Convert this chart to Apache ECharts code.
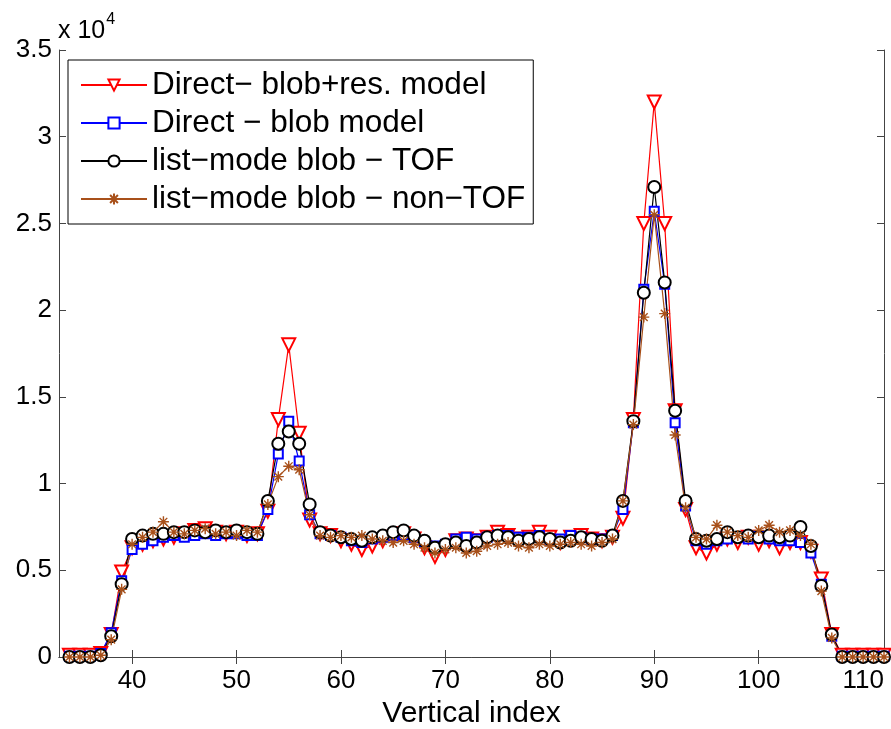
<!DOCTYPE html>
<html lang="en">
<head>
    <meta charset="UTF-8">
    <title>Vertical index profile</title>
    <script src="https://cdn.jsdelivr.net/npm/echarts@6/dist/echarts.min.js"></script>
    <style>
        body { margin: 0; background: #fff; }
    </style>
</head>
<body>
    <div id="main" style="width:891px; height:729px;"></div>
    <script>
        // vertical index 34..112
        var xIndex = [34,35,36,37,38,39,40,41,42,43,44,45,46,47,48,49,50,51,52,53,54,55,56,57,58,59,60,61,62,63,64,65,66,67,68,69,70,71,72,73,74,75,76,77,78,79,80,81,82,83,84,85,86,87,88,89,90,91,92,93,94,95,96,97,98,99,100,101,102,103,104,105,106,107,108,109,110,111,112];

        var directRes = [100,100,100,200,1300,4900,6300,6500,6700,6800,6900,7100,7300,7400,7200,7100,7200,7000,7100,8400,13700,18000,12900,7900,7100,7000,6700,6500,6200,6400,6700,6900,7100,6800,6300,5800,6200,6700,6800,6700,6900,7200,7000,6800,6900,7200,6900,6600,6900,7000,6800,6700,6900,8000,13700,25000,32000,25000,14200,8500,6300,6000,6500,6800,6600,6900,6500,6700,6300,6600,6600,6100,4500,1300,100,100,100,100,100];

        var directBlob = [50,50,50,200,1400,4400,6200,6500,6700,6900,7000,6900,7000,7100,7000,7100,7100,7000,7000,8500,11700,13600,11300,8200,7100,7000,6900,6700,6600,6800,6900,7000,7000,6900,6600,6400,6500,6800,6900,6800,6900,7000,7000,6900,6900,7000,6800,6800,7000,6900,6800,6800,7000,8500,13500,21200,25700,21500,13500,8700,6700,6500,6700,6800,6900,6800,7000,6800,6700,6700,6600,6000,4200,1200,50,50,50,50,50];

        var listTof = [0,0,0,100,1200,4200,6800,7000,7100,7100,7200,7200,7300,7200,7300,7200,7300,7200,7100,9000,12300,13000,12300,8800,7200,7000,6900,6800,6700,6900,7000,7200,7300,7000,6700,6300,6500,6600,6400,6600,6900,7000,6900,6700,6800,6900,6800,6600,6700,6900,6800,6700,7000,9000,13600,21000,27100,21600,14200,9000,6800,6700,6800,7200,6900,7000,6900,7000,6900,7000,7500,6400,4100,1300,0,0,0,0,0];

        var listNonTof = [0,0,0,100,1000,3900,6500,6900,7200,7800,7200,7100,7300,7400,7100,7200,7000,7300,7200,8800,10400,11000,10800,8200,7000,6900,7000,6900,7000,6800,6700,6600,6700,6500,6300,6000,6200,6300,6000,6100,6400,6500,6600,6400,6300,6500,6400,6500,6600,6500,6400,6600,6800,9000,13400,19600,25500,19800,12800,8600,6900,6800,7600,7200,7000,6900,7300,7600,7200,7300,7000,6500,3800,1100,0,0,0,0,0];

        var xTicks = [40,50,60,70,80,90,100,110];

        function pairs(vals) {
            return vals.map(function (v, i) { return [xIndex[i], v]; });
        }

        var asterisk = 'path://M5,0L5,10M0,5L10,5M1.5,1.5L8.5,8.5M8.5,1.5L1.5,8.5';
        var font = 'Liberation Sans, Arial, sans-serif';
        var axisColor = '#444';

        var chart = echarts.init(document.getElementById('main'));

        var option = {
            animation: false,
            backgroundColor: '#fff',
            textStyle: { fontFamily: font },
            grid: { left: 59, right: 7, top: 50, bottom: 72, outerBoundsMode: 'none' },
            graphic: [{
                type: 'text',
                left: 58,
                top: 12,
                style: {
                    text: '{a|x 10}{b|4}',
                    rich: {
                        a: { fontSize: 25, fontFamily: font, fill: '#000', verticalAlign: 'bottom' },
                        b: { fontSize: 16, fontFamily: font, fill: '#000', verticalAlign: 'top', padding: [0, 0, 16, 1] }
                    }
                }
            }],
            legend: {
                orient: 'vertical',
                left: 68,
                top: 60,
                padding: [9, 8, 9, 12],
                itemGap: 6,
                itemWidth: 66,
                itemHeight: 14,
                backgroundColor: '#fff',
                borderColor: '#000',
                borderWidth: 1,
                borderRadius: 0,
                textStyle: { fontSize: 31.5, color: '#000', fontFamily: font },
                data: ['Direct\u2212 blob+res. model', 'Direct \u2212 blob model', 'list\u2212mode blob \u2212 TOF', 'list\u2212mode blob \u2212 non\u2212TOF']
            },
            xAxis: [{
                type: 'value',
                min: 33,
                max: 112,
                name: 'Vertical index',
                nameLocation: 'middle',
                nameGap: 40,
                nameTextStyle: { fontSize: 30, color: '#000', fontFamily: font },
                axisLine: { lineStyle: { color: axisColor } },
                axisTick: { inside: true, length: 7, customValues: xTicks, lineStyle: { color: axisColor } },
                axisLabel: { fontSize: 26, color: '#000', margin: 11, customValues: xTicks },
                splitLine: { show: false }
            }, {
                type: 'value',
                position: 'top',
                min: 33,
                max: 112,
                axisLine: { show: true, lineStyle: { color: axisColor } },
                axisTick: { inside: true, length: 7, customValues: xTicks, lineStyle: { color: axisColor } },
                axisLabel: { show: false },
                splitLine: { show: false }
            }],
            yAxis: [{
                type: 'value',
                min: 0,
                max: 35000,
                interval: 5000,
                axisLine: { show: true, lineStyle: { color: axisColor } },
                axisTick: { show: true, inside: true, length: 7, lineStyle: { color: axisColor } },
                axisLabel: {
                    fontSize: 26,
                    color: '#000',
                    margin: 7,
                    formatter: function (v) { return String(v / 10000); }
                },
                splitLine: { show: false }
            }, {
                type: 'value',
                position: 'right',
                min: 0,
                max: 35000,
                interval: 5000,
                axisLine: { show: true, lineStyle: { color: axisColor } },
                axisTick: { show: true, inside: true, length: 7, lineStyle: { color: axisColor } },
                axisLabel: { show: false },
                splitLine: { show: false }
            }],
            series: [{
                name: 'Direct\u2212 blob+res. model',
                type: 'line',
                data: pairs(directRes),
                symbol: 'emptyTriangle',
                symbolRotate: 180,
                symbolSize: 13,
                color: '#ff0000',
                lineStyle: { width: 1.2, color: '#ff0000' },
                itemStyle: { color: '#ff0000', borderWidth: 1.2 }
            }, {
                name: 'Direct \u2212 blob model',
                type: 'line',
                data: pairs(directBlob),
                symbol: 'emptyRect',
                symbolSize: 9,
                color: '#0000ff',
                lineStyle: { width: 1.2, color: '#0000ff' },
                itemStyle: { color: '#0000ff', borderWidth: 1.2 }
            }, {
                name: 'list\u2212mode blob \u2212 TOF',
                type: 'line',
                data: pairs(listTof),
                symbol: 'emptyCircle',
                symbolSize: 12,
                color: '#000000',
                lineStyle: { width: 1.2, color: '#000000' },
                itemStyle: { color: '#000000', borderWidth: 1.2 }
            }, {
                name: 'list\u2212mode blob \u2212 non\u2212TOF',
                type: 'line',
                data: pairs(listNonTof),
                symbol: asterisk,
                symbolSize: 11,
                color: '#a8501a',
                lineStyle: { width: 1.2, color: '#a8501a' },
                itemStyle: { color: '#a8501a', borderColor: '#a8501a', borderWidth: 1.4 }
            }]
        };
        chart.setOption(option);
    </script>
</body>
</html>
